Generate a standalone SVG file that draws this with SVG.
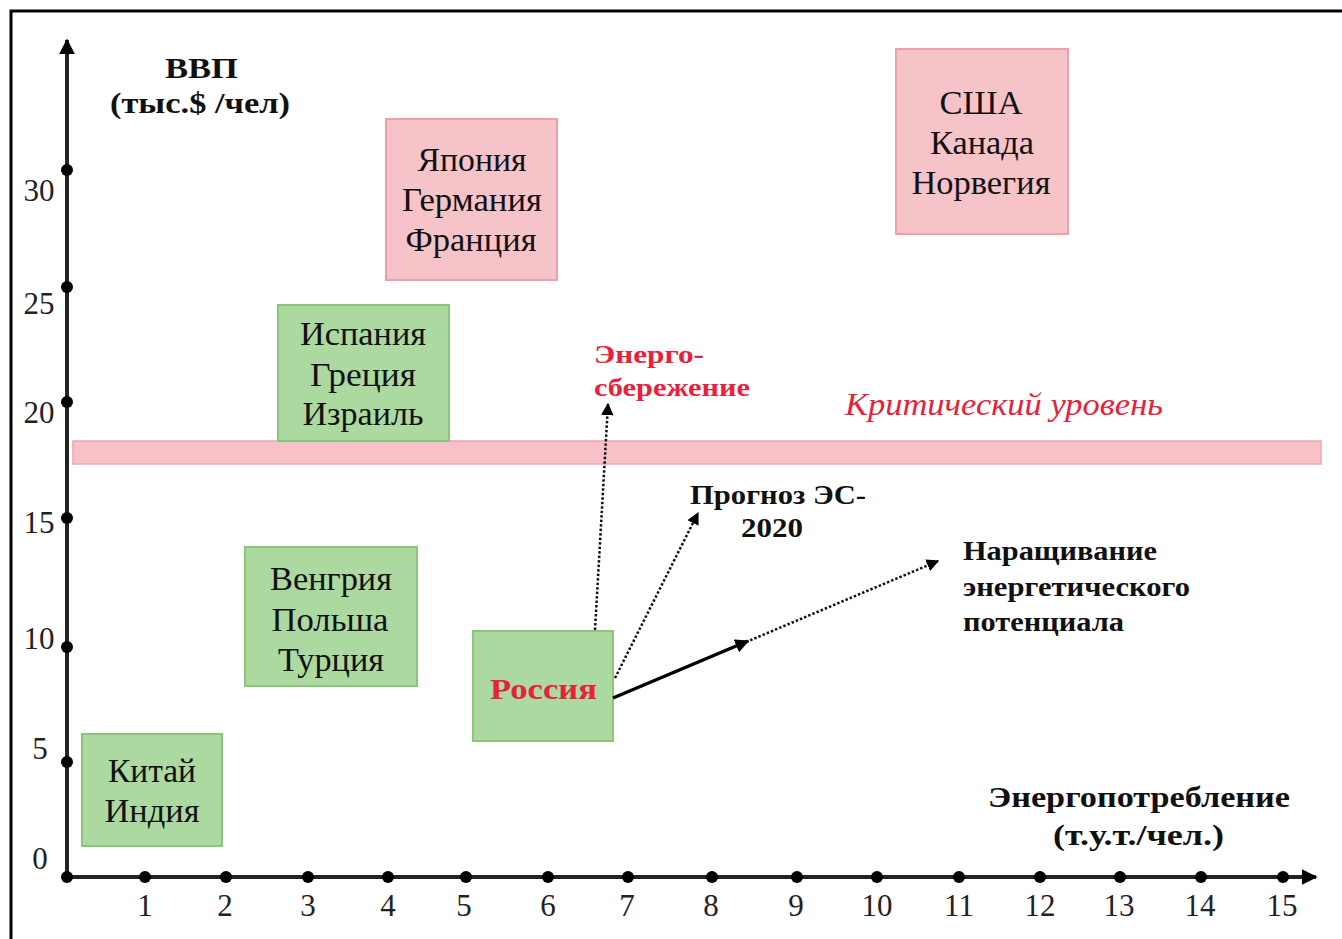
<svg xmlns="http://www.w3.org/2000/svg" width="1342" height="939" viewBox="0 0 1342 939">
<defs>
<style>
.t{font-family:"Liberation Serif","Times New Roman",serif;fill:#111;}
.c{font-size:33px;text-anchor:middle;}
.b{font-weight:bold;}
.n{font-size:31px;text-anchor:middle;fill:#222;}
.pink{fill:#f6c3c8;stroke:#ef9fa9;stroke-width:2;}
.green{fill:#acd9a0;stroke:#86c878;stroke-width:2;}
.red{fill:#e8213c;}
.dot{fill:#000;}
.dash{stroke:#111;stroke-width:2.5;stroke-dasharray:2.5 2;fill:none;}
</style>
<marker id="ah" viewBox="0 0 10 10" refX="9" refY="5" markerWidth="5" markerHeight="5" orient="auto" markerUnits="strokeWidth">
<path d="M0,0 L10,5 L0,10 z" fill="#000"/>
</marker>
<marker id="ah2" viewBox="0 0 10 10" refX="9" refY="5" markerWidth="4" markerHeight="4" orient="auto" markerUnits="strokeWidth">
<path d="M0,0 L10,5 L0,10 z" fill="#000"/>
</marker>
</defs>
<rect width="1342" height="939" fill="#fff"/>
<path d="M11,939 L11,11 L1342,11" fill="none" stroke="#000" stroke-width="3"/>

<g id="axes">
<line x1="67" y1="877" x2="67" y2="40" stroke="#222" stroke-width="4" marker-end="url(#ah2)"/>
<line x1="67" y1="877" x2="1316" y2="877" stroke="#222" stroke-width="4" marker-end="url(#ah2)"/>
<circle class="dot" cx="67" cy="170" r="6"/>
<circle class="dot" cx="67" cy="287" r="6"/>
<circle class="dot" cx="67" cy="402" r="6"/>
<circle class="dot" cx="67" cy="518" r="6"/>
<circle class="dot" cx="67" cy="647" r="6"/>
<circle class="dot" cx="67" cy="762" r="6"/>
<circle class="dot" cx="67" cy="877" r="6"/>
<circle class="dot" cx="145" cy="877" r="6"/>
<circle class="dot" cx="226" cy="877" r="6"/>
<circle class="dot" cx="308" cy="877" r="6"/>
<circle class="dot" cx="388" cy="877" r="6"/>
<circle class="dot" cx="466" cy="877" r="6"/>
<circle class="dot" cx="548" cy="877" r="6"/>
<circle class="dot" cx="628" cy="877" r="6"/>
<circle class="dot" cx="712" cy="877" r="6"/>
<circle class="dot" cx="797" cy="877" r="6"/>
<circle class="dot" cx="877" cy="877" r="6"/>
<circle class="dot" cx="959" cy="877" r="6"/>
<circle class="dot" cx="1040" cy="877" r="6"/>
<circle class="dot" cx="1120" cy="877" r="6"/>
<circle class="dot" cx="1201" cy="877" r="6"/>
<circle class="dot" cx="1283" cy="877" r="6"/>
<text class="t n" x="39" y="201">30</text>
<text class="t n" x="39" y="314">25</text>
<text class="t n" x="39" y="423">20</text>
<text class="t n" x="39" y="533">15</text>
<text class="t n" x="39" y="649">10</text>
<text class="t n" x="40" y="759">5</text>
<text class="t n" x="40" y="869">0</text>
<text class="t n" x="145" y="916">1</text>
<text class="t n" x="225" y="916">2</text>
<text class="t n" x="308" y="916">3</text>
<text class="t n" x="388" y="916">4</text>
<text class="t n" x="464" y="916">5</text>
<text class="t n" x="548" y="916">6</text>
<text class="t n" x="627" y="916">7</text>
<text class="t n" x="711" y="916">8</text>
<text class="t n" x="796" y="916">9</text>
<text class="t n" x="877" y="916">10</text>
<text class="t n" x="959" y="916">11</text>
<text class="t n" x="1040" y="916">12</text>
<text class="t n" x="1119" y="916">13</text>
<text class="t n" x="1200" y="916">14</text>
<text class="t n" x="1282" y="916">15</text>
<text class="t b" x="165" y="78" font-size="30" textLength="73" lengthAdjust="spacingAndGlyphs">ВВП</text>
<text class="t b" x="110" y="113" font-size="30" textLength="180" lengthAdjust="spacingAndGlyphs">(тыс.$ /чел)</text>
<text class="t b" x="988" y="807" font-size="30" textLength="302" lengthAdjust="spacingAndGlyphs">Энергопотребление</text>
<text class="t b" x="1053" y="845" font-size="30" textLength="171" lengthAdjust="spacingAndGlyphs">(т.у.т./чел.)</text>
</g>

<g id="critical-level">
<rect x="73" y="441" width="1248" height="23" fill="#f6c2c8" stroke="#f3a3ad" stroke-width="1.5"/>
<text class="t red" x="845" y="415" font-size="31" font-style="italic" textLength="318" lengthAdjust="spacingAndGlyphs">Критический уровень</text>
</g>

<g id="node-japan">
<rect class="pink" x="386" y="119" width="171" height="161"/>
<text class="t c" x="472" y="171" textLength="109" lengthAdjust="spacingAndGlyphs">Япония</text>
<text class="t c" x="472" y="211" textLength="140" lengthAdjust="spacingAndGlyphs">Германия</text>
<text class="t c" x="471" y="251" textLength="131" lengthAdjust="spacingAndGlyphs">Франция</text>
</g>
<g id="node-usa">
<rect class="pink" x="896" y="49" width="172" height="185"/>
<text class="t c" x="981" y="114" textLength="83" lengthAdjust="spacingAndGlyphs">США</text>
<text class="t c" x="982" y="154" textLength="104" lengthAdjust="spacingAndGlyphs">Канада</text>
<text class="t c" x="981" y="194" textLength="139" lengthAdjust="spacingAndGlyphs">Норвегия</text>
</g>
<g id="node-spain">
<rect class="green" x="278" y="305" width="171" height="136"/>
<text class="t c" x="363" y="345" textLength="126" lengthAdjust="spacingAndGlyphs">Испания</text>
<text class="t c" x="363" y="386" textLength="106" lengthAdjust="spacingAndGlyphs">Греция</text>
<text class="t c" x="363" y="425" textLength="121" lengthAdjust="spacingAndGlyphs">Израиль</text>
</g>
<g id="node-hungary">
<rect class="green" x="245" y="547" width="172" height="139"/>
<text class="t c" x="331" y="590" textLength="122" lengthAdjust="spacingAndGlyphs">Венгрия</text>
<text class="t c" x="330" y="631" textLength="117" lengthAdjust="spacingAndGlyphs">Польша</text>
<text class="t c" x="331" y="671" textLength="106" lengthAdjust="spacingAndGlyphs">Турция</text>
</g>
<g id="node-russia">
<rect class="green" x="473" y="631" width="140" height="110"/>
<text class="t b red" x="490" y="699" font-size="29" textLength="107" lengthAdjust="spacingAndGlyphs">Россия</text>
</g>
<g id="node-china">
<rect class="green" x="82" y="734" width="140" height="112"/>
<text class="t c" x="152" y="782" textLength="88" lengthAdjust="spacingAndGlyphs">Китай</text>
<text class="t c" x="152" y="822" textLength="95" lengthAdjust="spacingAndGlyphs">Индия</text>
</g>

<g id="connectors">
<line class="dash" x1="595" y1="630" x2="608" y2="404" marker-end="url(#ah)"/>
<line class="dash" x1="615" y1="678" x2="698" y2="513" marker-end="url(#ah)"/>
<line x1="613" y1="698" x2="748" y2="641" stroke="#000" stroke-width="3.5" marker-end="url(#ah2)"/>
<line class="dash" x1="746" y1="642" x2="938" y2="561" marker-end="url(#ah)"/>
</g>

<g id="labels">
<text class="t b red" x="594" y="363" font-size="26" textLength="110" lengthAdjust="spacingAndGlyphs">Энерго-</text>
<text class="t b red" x="594" y="396" font-size="26" textLength="156" lengthAdjust="spacingAndGlyphs">сбережение</text>
<text class="t b" x="690" y="504" font-size="28" textLength="176" lengthAdjust="spacingAndGlyphs">Прогноз ЭС-</text>
<text class="t b" x="741" y="537" font-size="28" textLength="62" lengthAdjust="spacingAndGlyphs">2020</text>
<text class="t b" x="963" y="560" font-size="28" textLength="194" lengthAdjust="spacingAndGlyphs">Наращивание</text>
<text class="t b" x="963" y="596" font-size="28" textLength="227" lengthAdjust="spacingAndGlyphs">энергетического</text>
<text class="t b" x="963" y="631" font-size="28" textLength="161" lengthAdjust="spacingAndGlyphs">потенциала</text>
</g>
</svg>
